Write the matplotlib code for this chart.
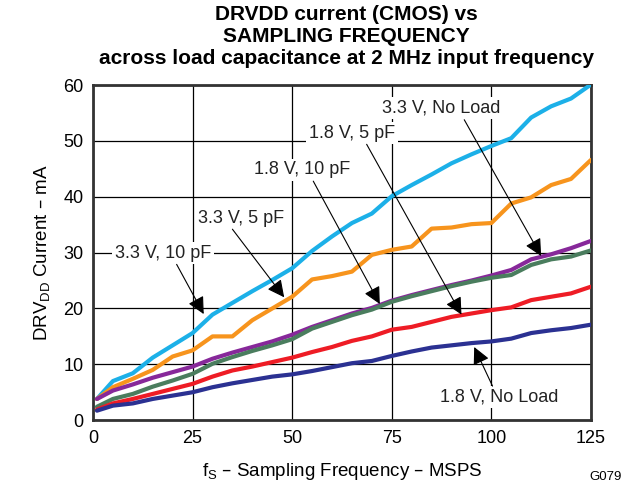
import matplotlib
matplotlib.use("Agg")
import matplotlib.pyplot as plt

plt.rcParams["font.family"] = ["Liberation Sans", "DejaVu Sans"]
plt.rcParams["mathtext.default"] = "regular"

# -------------------------------------------------
# data
# -------------------------------------------------
fs = [1, 5, 10, 15, 20, 25, 30, 35, 40, 45, 50, 55, 60, 65, 70,
      75, 80, 85, 90, 95, 100, 105, 110, 115, 120, 125]

i_33_10pf = [3.8, 7.0, 8.4, 11.2, 13.4, 15.6, 18.9, 21.0, 23.1, 25.1, 27.2, 30.3, 32.9,
             35.3, 37.0, 40.1, 42.1, 44.0, 46.0, 47.6, 49.1, 50.5, 54.2, 56.2, 57.6, 60.1]
i_33_5pf = [3.8, 5.9, 7.4, 9.0, 11.4, 12.5, 15.0, 15.0, 17.9, 20.0, 22.1, 25.2, 25.8,
            26.6, 29.6, 30.5, 31.1, 34.3, 34.5, 35.1, 35.3, 38.8, 39.9, 42.1, 43.2, 46.6]
i_33_noload = [3.8, 5.3, 6.4, 7.6, 8.6, 9.6, 11.0, 12.1, 13.1, 14.1, 15.3, 16.7, 17.9,
               19.1, 20.1, 21.4, 22.4, 23.3, 24.2, 25.0, 25.9, 26.9, 28.8, 29.7, 30.8, 32.1]
i_18_10pf = [2.4, 3.8, 4.7, 6.0, 7.1, 8.3, 10.1, 11.3, 12.4, 13.4, 14.5, 16.4, 17.6,
             18.8, 19.8, 21.2, 22.2, 23.1, 24.0, 24.8, 25.5, 26.0, 27.8, 28.8, 29.3, 30.4]
i_18_5pf = [1.9, 3.0, 3.8, 4.7, 5.6, 6.5, 7.8, 8.9, 9.6, 10.4, 11.2, 12.2, 13.1,
            14.2, 15.0, 16.2, 16.7, 17.6, 18.5, 19.1, 19.7, 20.2, 21.5, 22.1, 22.7, 23.9]
i_18_noload = [1.7, 2.6, 3.0, 3.8, 4.4, 5.0, 5.9, 6.6, 7.2, 7.8, 8.2, 8.8, 9.5,
               10.2, 10.6, 11.5, 12.3, 13.0, 13.4, 13.8, 14.1, 14.6, 15.6, 16.1, 16.5, 17.1]

x_ticks = [0, 25, 50, 75, 100, 125]
y_ticks = [0, 10, 20, 30, 40, 50, 60]

# label text, label position, arrow start, arrow tip
labels = ["3.3 V, 10 pF", "3.3 V, 5 pF", "1.8 V, 10 pF",
          "1.8 V, 5 pF", "3.3 V, No Load", "1.8 V, No Load"]
label_xy = [(17.5, 29.9), (37.2, 36.2), (52.5, 44.8),
            (65.0, 51.4), (87.4, 55.9), (102.0, 4.1)]
start_xy = [(21.0, 27.9), (35.0, 34.2), (55.3, 42.8),
            (68.7, 49.4), (93.2, 53.8), (100.3, 6.1)]
tip_xy = [(27.8, 19.0), (48.0, 22.0), (72.0, 20.8),
          (92.5, 18.9), (112.5, 29.4), (95.7, 13.1)]

# -------------------------------------------------
# plot
# -------------------------------------------------
fig = plt.figure(figsize=(6.24, 4.92), dpi=100)
ax = fig.add_axes([0.149, 0.146, 0.798, 0.681])

series = [
    (i_33_10pf, "#1CB0E8"),
    (i_33_5pf, "#F7941D"),
    (i_33_noload, "#87289A"),
    (i_18_10pf, "#4A7D5E"),
    (i_18_5pf, "#EE1C25"),
    (i_18_noload, "#2B3192"),
]
for vals, col in series:
    ax.plot(fs, vals, color=col, lw=3.0, solid_capstyle="round",
            solid_joinstyle="round", zorder=3)

ax.set_xlim(0, 125)
ax.set_ylim(0, 60)
ax.set_xticks(x_ticks)
ax.set_yticks(y_ticks)
ax.tick_params(length=0, labelsize=13, pad=7)
ax.grid(color="black", lw=0.9, zorder=1)
ax.set_axisbelow(True)
for sp in ax.spines.values():
    sp.set_linewidth(2.0)
    sp.set_color("#333333")

for txt, lxy, sxy, txy in zip(labels, label_xy, start_xy, tip_xy):
    ax.text(lxy[0], lxy[1], txt, ha="center", va="center", fontsize=13,
            color="#222222", zorder=4,
            bbox=dict(facecolor="white", edgecolor="none", pad=2.0))
    ax.annotate("", xy=txy, xytext=sxy, zorder=5,
                arrowprops=dict(arrowstyle="-|>", color="black", lw=0.8,
                                mutation_scale=26, shrinkA=0, shrinkB=0))

ax.set_xlabel("f$_S$ – Sampling Frequency – MSPS", fontsize=13.5, labelpad=10)
ax.set_ylabel("DRV$_{DD}$ Current – mA", fontsize=13.5, labelpad=8)

fig.text(0.555, 0.99, "DRVDD current (CMOS) vs\nSAMPLING FREQUENCY\n"
         "across load capacitance at 2 MHz input frequency",
         ha="center", va="top", fontsize=15, fontweight="bold",
         linespacing=1.2)
fig.text(0.997, 0.018, "G079", ha="right", va="bottom", fontsize=9.5)

fig.savefig("out.png", dpi=100)
